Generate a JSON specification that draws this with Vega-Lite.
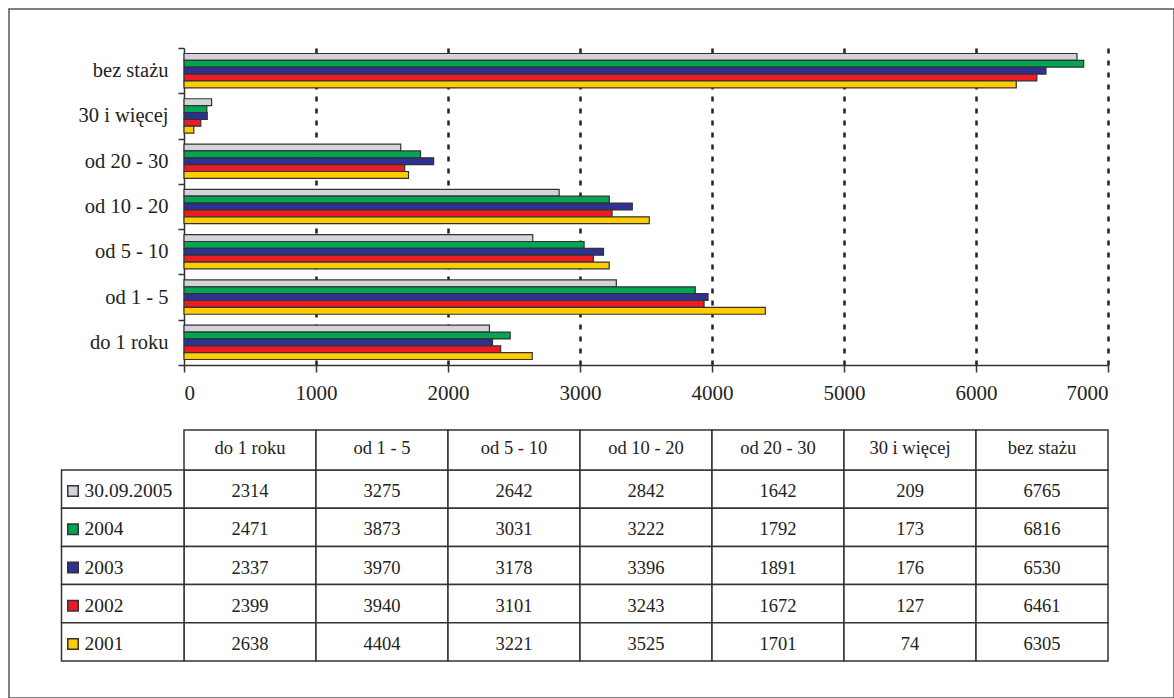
{
  "$schema": "https://vega.github.io/schema/vega-lite/v6.json",
  "autosize": "none",
  "width": 1165,
  "height": 689,
  "padding": {"left": 9, "top": 9, "right": 0, "bottom": 0},
  "background": "white",
  "config": {
    "font": "Liberation Serif",
    "view": {"stroke": "#555", "strokeWidth": 1.5},
    "axis": {"labelFont": "Liberation Serif"},
    "text": {"font": "Liberation Serif"}
  },
  "datasets": {
    "staz": [
      {"kat": "do 1 roku", "seria": "30.09.2005", "value": 2314},
      {"kat": "od 1 - 5", "seria": "30.09.2005", "value": 3275},
      {"kat": "od 5 - 10", "seria": "30.09.2005", "value": 2642},
      {"kat": "od 10 - 20", "seria": "30.09.2005", "value": 2842},
      {"kat": "od 20 - 30", "seria": "30.09.2005", "value": 1642},
      {"kat": "30 i więcej", "seria": "30.09.2005", "value": 209},
      {"kat": "bez stażu", "seria": "30.09.2005", "value": 6765},
      {"kat": "do 1 roku", "seria": "2004", "value": 2471},
      {"kat": "od 1 - 5", "seria": "2004", "value": 3873},
      {"kat": "od 5 - 10", "seria": "2004", "value": 3031},
      {"kat": "od 10 - 20", "seria": "2004", "value": 3222},
      {"kat": "od 20 - 30", "seria": "2004", "value": 1792},
      {"kat": "30 i więcej", "seria": "2004", "value": 173},
      {"kat": "bez stażu", "seria": "2004", "value": 6816},
      {"kat": "do 1 roku", "seria": "2003", "value": 2337},
      {"kat": "od 1 - 5", "seria": "2003", "value": 3970},
      {"kat": "od 5 - 10", "seria": "2003", "value": 3178},
      {"kat": "od 10 - 20", "seria": "2003", "value": 3396},
      {"kat": "od 20 - 30", "seria": "2003", "value": 1891},
      {"kat": "30 i więcej", "seria": "2003", "value": 176},
      {"kat": "bez stażu", "seria": "2003", "value": 6530},
      {"kat": "do 1 roku", "seria": "2002", "value": 2399},
      {"kat": "od 1 - 5", "seria": "2002", "value": 3940},
      {"kat": "od 5 - 10", "seria": "2002", "value": 3101},
      {"kat": "od 10 - 20", "seria": "2002", "value": 3243},
      {"kat": "od 20 - 30", "seria": "2002", "value": 1672},
      {"kat": "30 i więcej", "seria": "2002", "value": 127},
      {"kat": "bez stażu", "seria": "2002", "value": 6461},
      {"kat": "do 1 roku", "seria": "2001", "value": 2638},
      {"kat": "od 1 - 5", "seria": "2001", "value": 4404},
      {"kat": "od 5 - 10", "seria": "2001", "value": 3221},
      {"kat": "od 10 - 20", "seria": "2001", "value": 3525},
      {"kat": "od 20 - 30", "seria": "2001", "value": 1701},
      {"kat": "30 i więcej", "seria": "2001", "value": 74},
      {"kat": "bez stażu", "seria": "2001", "value": 6305}
    ]
  },
  "data": {"name": "staz"},
  "layer": [
    {
      "layer": [
        {
          "mark": {"type": "bar", "stroke": "#333", "strokeWidth": 1.2},
          "encoding": {
            "x": {
              "field": "value", "type": "quantitative",
              "scale": {"domain": [0, 7000], "range": [175, 1099], "nice": false, "zero": true},
              "axis": {
                "orient": "top", "title": null,
                "values": [1000, 2000, 3000, 4000, 5000, 6000, 7000],
                "grid": true, "gridDash": [5, 7], "gridColor": "#222", "gridWidth": 2.5, "gridOpacity": 1,
                "domain": false, "ticks": false, "labels": false
              }
            },
            "y": {
              "field": "kat", "type": "nominal",
              "sort": ["bez stażu", "30 i więcej", "od 20 - 30", "od 10 - 20", "od 5 - 10", "od 1 - 5", "do 1 roku"],
              "scale": {"range": [39, 356], "paddingInner": 0, "paddingOuter": 0},
              "axis": {
                "orient": "left", "offset": -175, "title": null,
                "tickBand": "extent", "tickSize": 6, "tickColor": "#333", "tickWidth": 1.5,
                "domainColor": "#333", "domainWidth": 1.5,
                "labelFontSize": 20.5, "labelColor": "#222", "labelPadding": 10, "grid": false
              }
            },
            "yOffset": {
              "field": "seria", "type": "nominal",
              "sort": ["30.09.2005", "2004", "2003", "2002", "2001"],
              "scale": {"paddingInner": 0, "paddingOuter": 0.8}
            },
            "color": {
              "field": "seria", "type": "nominal",
              "scale": {
                "domain": ["30.09.2005", "2004", "2003", "2002", "2001"],
                "range": ["#d3d3dc", "#00a651", "#2e3192", "#ed1c24", "#ffcc00"]
              },
              "legend": null
            }
          }
        },
        {
          "mark": {"type": "rule", "strokeOpacity": 0},
          "encoding": {
            "x": {
              "datum": 0, "type": "quantitative",
              "axis": {
                "orient": "bottom", "offset": -333, "title": null,
                "values": [0, 1000, 2000, 3000, 4000, 5000, 6000, 7000],
                "format": "d", "grid": false,
                "domainColor": "#333", "domainWidth": 1.5,
                "tickColor": "#333", "tickWidth": 1.5, "tickSize": 7,
                "labelFontSize": 21, "labelColor": "#222", "labelPadding": 10
              }
            }
          }
        }
      ],
      "resolve": {"axis": {"x": "independent"}}
    },
    {
      "layer": [
        {
          "mark": {"type": "rect", "fill": "white", "stroke": "#333", "strokeWidth": 1.5},
          "encoding": {
            "x": {
              "field": "kat", "type": "nominal",
              "sort": ["do 1 roku", "od 1 - 5", "od 5 - 10", "od 10 - 20", "od 20 - 30", "30 i więcej", "bez stażu"],
              "scale": {"range": [175, 1099], "paddingInner": 0, "paddingOuter": 0},
              "axis": null
            },
            "y": {
              "field": "seria", "type": "nominal",
              "sort": ["30.09.2005", "2004", "2003", "2002", "2001"],
              "scale": {"range": [461, 652], "paddingInner": 0, "paddingOuter": 0},
              "axis": null
            }
          }
        },
        {
          "mark": {"type": "text", "fontSize": 18.5, "color": "#222", "dy": 2},
          "encoding": {
            "x": {
              "field": "kat", "type": "nominal",
              "sort": ["do 1 roku", "od 1 - 5", "od 5 - 10", "od 10 - 20", "od 20 - 30", "30 i więcej", "bez stażu"]
            },
            "y": {
              "field": "seria", "type": "nominal",
              "sort": ["30.09.2005", "2004", "2003", "2002", "2001"]
            },
            "text": {"field": "value", "type": "quantitative", "format": "d"}
          }
        }
      ]
    },
    {
      "transform": [{"filter": "datum.seria == '2001'"}],
      "layer": [
        {
          "mark": {"type": "rect", "fill": "white", "stroke": "#333", "strokeWidth": 1.5},
          "encoding": {
            "x": {
              "field": "kat", "type": "nominal",
              "sort": ["do 1 roku", "od 1 - 5", "od 5 - 10", "od 10 - 20", "od 20 - 30", "30 i więcej", "bez stażu"],
              "scale": {"range": [175, 1099], "paddingInner": 0, "paddingOuter": 0},
              "axis": null
            },
            "y": {
              "datum": "nagłówek", "type": "nominal",
              "scale": {"range": [421, 461], "paddingInner": 0, "paddingOuter": 0},
              "axis": null
            }
          }
        },
        {
          "mark": {"type": "text", "fontSize": 18.5, "color": "#222", "dy": -2},
          "encoding": {
            "x": {
              "field": "kat", "type": "nominal",
              "sort": ["do 1 roku", "od 1 - 5", "od 5 - 10", "od 10 - 20", "od 20 - 30", "30 i więcej", "bez stażu"]
            },
            "y": {"datum": "nagłówek", "type": "nominal"},
            "text": {"field": "kat"}
          }
        }
      ]
    },
    {
      "transform": [{"filter": "datum.kat == 'do 1 roku'"}],
      "layer": [
        {
          "mark": {"type": "rect", "fill": "white", "stroke": "#333", "strokeWidth": 1.5},
          "encoding": {
            "x": {
              "datum": "legenda", "type": "nominal",
              "scale": {"range": [52.5, 175], "paddingInner": 0, "paddingOuter": 0},
              "axis": null
            },
            "y": {
              "field": "seria", "type": "nominal",
              "sort": ["30.09.2005", "2004", "2003", "2002", "2001"],
              "scale": {"range": [461, 652], "paddingInner": 0, "paddingOuter": 0},
              "axis": null
            }
          }
        },
        {
          "mark": {"type": "point", "shape": "square", "filled": true, "size": 110, "stroke": "#333", "strokeWidth": 1.5, "opacity": 1, "xOffset": 11.5, "yOffset": 2},
          "encoding": {
            "x": {"datum": "legenda", "type": "nominal", "bandPosition": 0},
            "y": {
              "field": "seria", "type": "nominal",
              "sort": ["30.09.2005", "2004", "2003", "2002", "2001"]
            },
            "color": {
              "field": "seria", "type": "nominal",
              "scale": {
                "domain": ["30.09.2005", "2004", "2003", "2002", "2001"],
                "range": ["#d3d3dc", "#00a651", "#2e3192", "#ed1c24", "#ffcc00"]
              },
              "legend": null
            }
          }
        },
        {
          "mark": {"type": "text", "align": "left", "fontSize": 19.5, "color": "#222", "dx": 23, "dy": 2},
          "encoding": {
            "x": {"datum": "legenda", "type": "nominal", "bandPosition": 0},
            "y": {
              "field": "seria", "type": "nominal",
              "sort": ["30.09.2005", "2004", "2003", "2002", "2001"]
            },
            "text": {"field": "seria"}
          }
        }
      ]
    }
  ],
  "resolve": {
    "scale": {"x": "independent", "y": "independent"},
    "axis": {"x": "independent", "y": "independent"}
  }
}
